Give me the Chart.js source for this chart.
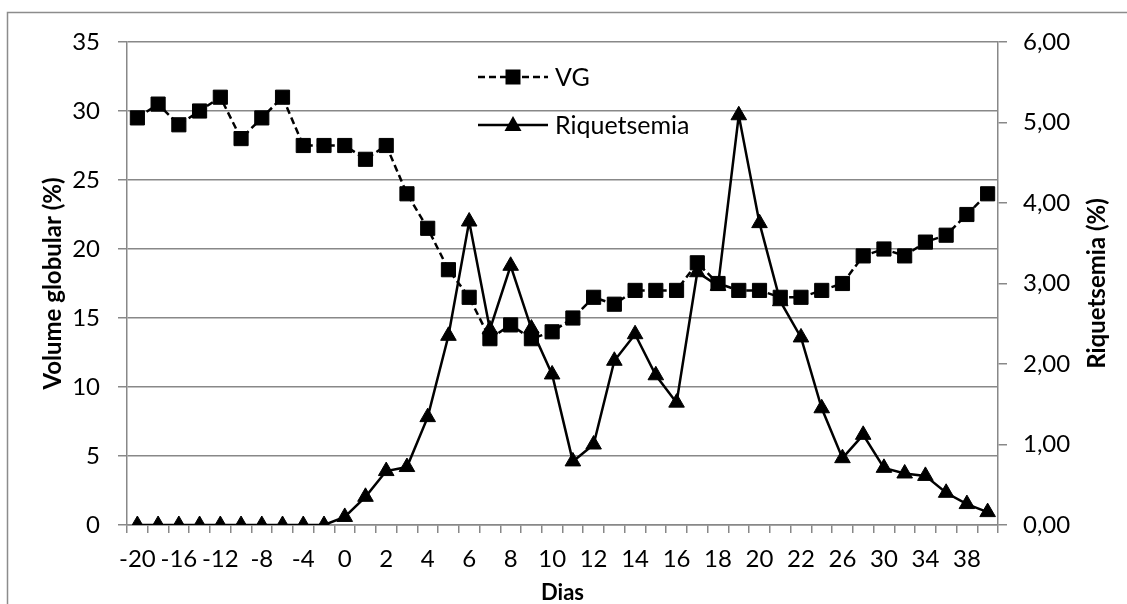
<!DOCTYPE html>
<html>
<head>
<meta charset="utf-8">
<script src="https://cdn.jsdelivr.net/npm/chart.js@4.4.1/dist/chart.umd.min.js"></script>
<style>
  html, body { margin: 0; padding: 0; background: #ffffff; }
  #wrap { width: 1127px; height: 604px; }
</style>
</head>
<body>
<div id="wrap"><canvas id="c" width="1127" height="604"></canvas></div>
<script>
// Categories (days)
const days = ["-20","-18","-16","-14","-12","-10","-8","-6","-4","-2",
  "0","1","2","3","4","5","6","7","8","9","10","11","12","13","14","15","16","17","18","19","20","21","22",
  "24","26","28","30","32","34","36","38","40"];
// Volume globular (%) — left axis
const vgValues = [29.5,30.5,29,30,31,28,29.5,31,27.5,27.5,
  27.5,26.5,27.5,24,21.5,18.5,16.5,13.5,14.5,13.5,14,15,16.5,16,17,17,17,19,17.5,17,17,16.5,16.5,
  17,17.5,19.5,20,19.5,20.5,21,22.5,24];
// Riquetsemia (%) — right axis
const riqValues = [0,0,0,0,0,0,0,0,0,0,
  0.1,0.35,0.67,0.72,1.34,2.35,3.77,2.43,3.22,2.44,1.87,0.79,1.0,2.04,2.37,1.86,1.52,3.14,2.97,5.09,3.75,2.78,2.33,
  1.45,0.83,1.12,0.71,0.64,0.61,0.40,0.26,0.16];
const seriesNames = ["VG", "Riquetsemia"];
const leftTitle = "Volume globular (%)";
const rightTitle = "Riquetsemia (%)";
const xTitle = "Dias";

const FONT = "Lato, 'Open Sans', sans-serif";
const GRID = "#888888";

const frame = {
  id: 'frame',
  beforeDraw(chart) {
    const ctx = chart.ctx;
    ctx.save();
    ctx.fillStyle = '#ffffff';
    ctx.fillRect(0, 0, chart.width, chart.height);
    ctx.strokeStyle = '#8c8c8c';
    ctx.lineWidth = 1.5;
    ctx.strokeRect(7.5, 12.5, 1300, 700);
    ctx.restore();
  }
};

// Right axis title reads bottom-to-top in the reference
const rightAxisTitle = {
  id: 'rightAxisTitle',
  afterDraw(chart) {
    const ctx = chart.ctx;
    const s = chart.scales.y1;
    const cy = (s.top + s.bottom) / 2;
    ctx.save();
    ctx.translate(1097, cy);
    ctx.rotate(-Math.PI / 2);
    ctx.font = "bold 24px " + FONT;
    ctx.fillStyle = '#000';
    ctx.textAlign = 'center';
    ctx.textBaseline = 'middle';
    ctx.fillText(rightTitle, 0, 0);
    ctx.restore();
  }
};

const legendInside = {
  id: 'legendInside',
  afterDraw(chart) {
    const ctx = chart.ctx;
    ctx.save();
    const x0 = 478, x1 = 548, xm = 513, tx = 555;
    // VG
    let y = 77;
    ctx.strokeStyle = '#000';
    ctx.lineWidth = 2.5;
    ctx.setLineDash([7, 4]);
    ctx.beginPath(); ctx.moveTo(x0, y); ctx.lineTo(x1, y); ctx.stroke();
    ctx.setLineDash([]);
    ctx.fillStyle = '#000';
    ctx.fillRect(xm - 7.5, y - 7.5, 15, 15);
    ctx.font = "25px " + FONT;
    ctx.textBaseline = 'middle';
    ctx.textAlign = 'left';
    ctx.fillText(seriesNames[0], tx, y + 1);
    // Riquetsemia
    y = 125;
    ctx.beginPath(); ctx.moveTo(x0, y); ctx.lineTo(x1, y); ctx.stroke();
    ctx.beginPath();
    ctx.moveTo(xm, y - 9); ctx.lineTo(xm + 8.5, y + 6); ctx.lineTo(xm - 8.5, y + 6); ctx.closePath();
    ctx.fill();
    ctx.fillText(seriesNames[1], tx, y + 1);
    ctx.restore();
  }
};

Chart.defaults.font.family = FONT;
Chart.defaults.color = '#000';

new Chart(document.getElementById('c'), {
  type: 'line',
  data: {
    labels: days,
    datasets: [
      {
        label: seriesNames[0],
        data: vgValues,
        yAxisID: 'y',
        borderColor: '#000',
        backgroundColor: '#000',
        borderWidth: 2.5,
        borderDash: [7, 4],
        tension: 0,
        pointStyle: 'rect',
        pointRadius: 10,
        pointBorderWidth: 1,
        pointBackgroundColor: '#000',
        pointBorderColor: '#000'
      },
      {
        label: seriesNames[1],
        data: riqValues,
        yAxisID: 'y1',
        borderColor: '#000',
        backgroundColor: '#000',
        borderWidth: 2.5,
        tension: 0,
        pointStyle: 'triangle',
        pointRadius: 9,
        pointBorderWidth: 1,
        pointBackgroundColor: '#000',
        pointBorderColor: '#000'
      }
    ]
  },
  options: {
    responsive: false,
    animation: false,
    devicePixelRatio: 1,
    layout: { padding: { top: 42, left: 0, right: 0, bottom: 0 } },
    plugins: { legend: { display: false }, tooltip: { enabled: false } },
    scales: {
      x: {
        type: 'category',
        offset: true,
        grid: { offset: true, drawOnChartArea: false, drawTicks: true, tickLength: 8, color: GRID, lineWidth: 1.5 },
        border: { color: GRID, width: 1.5 },
        ticks: {
          autoSkip: false, maxRotation: 0, minRotation: 0, padding: 12,
          font: { size: 24 }, color: '#000',
          callback: (v, i) => (i % 2 === 0 ? days[i] : '')
        },
        title: { display: true, text: xTitle, font: { size: 22, weight: 'bold', lineHeight: 1 }, padding: { top: 0, bottom: 0 }, color: '#000' },
        afterFit: s => { s.height = 79; }
      },
      y: {
        position: 'left',
        min: 0, max: 35,
        ticks: { stepSize: 5, padding: 18, font: { size: 24 }, color: '#000' },
        grid: { color: GRID, lineWidth: 1.5, tickLength: 9 },
        border: { color: GRID, width: 1.5 },
        title: { display: true, text: leftTitle, font: { size: 24, weight: 'bold', lineHeight: 1 }, padding: { top: 41, bottom: 0 }, color: '#000' },
        afterFit: s => { s.width = 127; }
      },
      y1: {
        position: 'right',
        min: 0, max: 6,
        ticks: { stepSize: 1, padding: 16, font: { size: 24 }, color: '#000',
          callback: v => Number(v).toFixed(2).replace('.', ',') },
        grid: { drawOnChartArea: false, color: GRID, lineWidth: 1.5, tickLength: 9 },
        border: { color: GRID, width: 1.5 },
        title: { display: false, text: rightTitle },
        afterFit: s => { s.width = 129; }
      }
    }
  },
  plugins: [frame, legendInside, rightAxisTitle]
});
</script>
</body>
</html>
